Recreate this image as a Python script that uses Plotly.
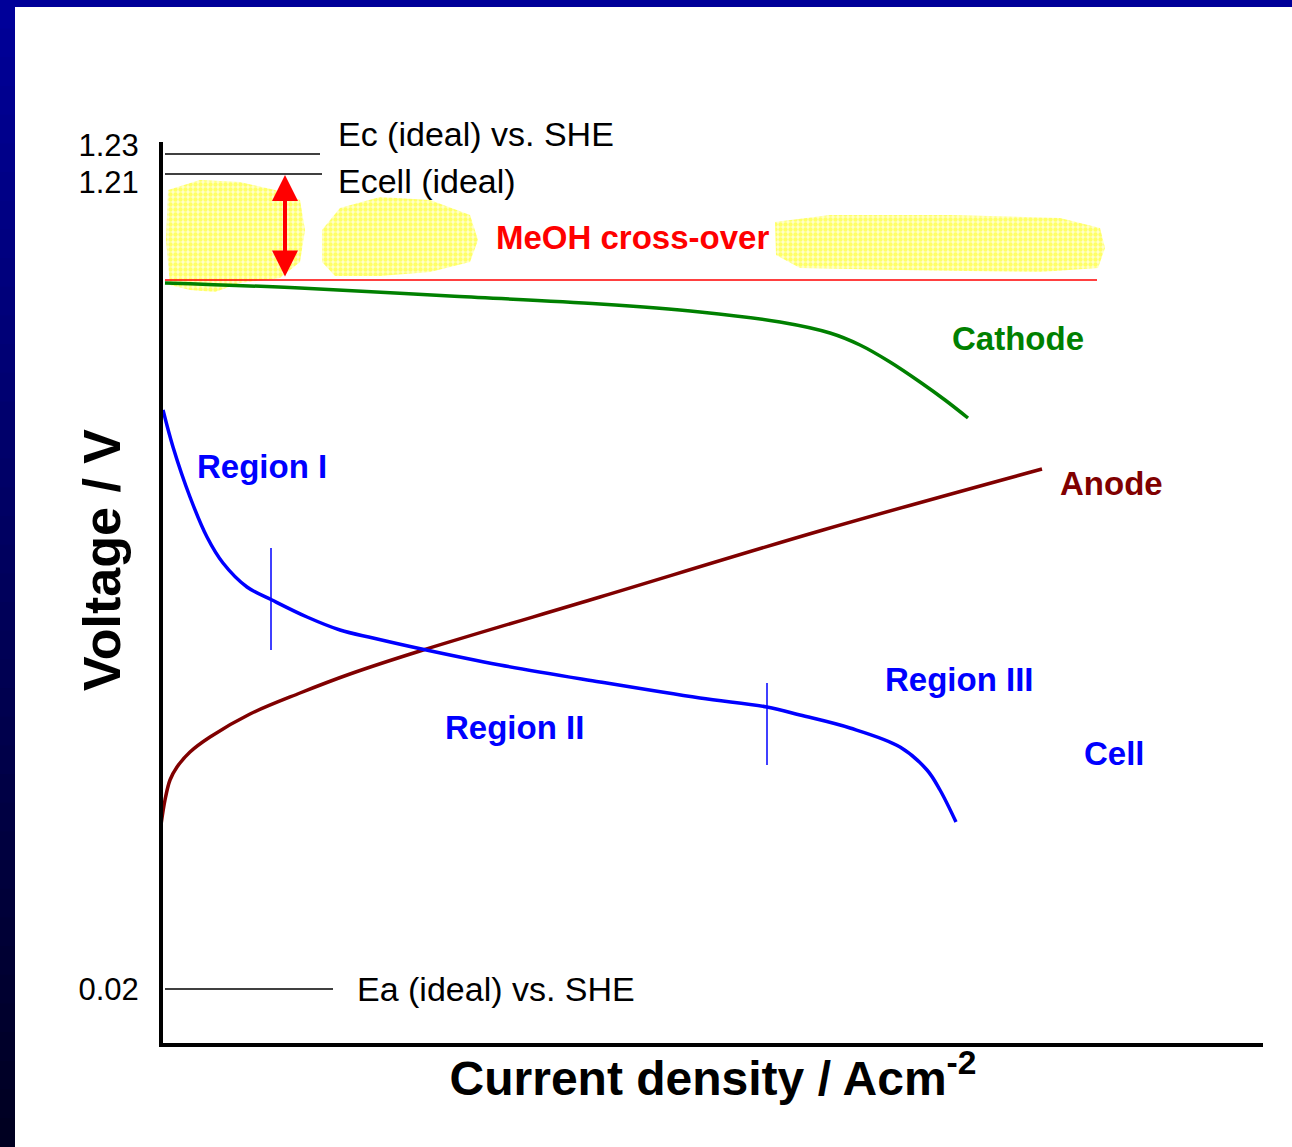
import plotly.graph_objects as go

# chart units: x = 0..1100 (current density, arbitrary), y = 0..901 (voltage, schematic)
cell_x = [0, 10, 27, 44, 60, 84, 109, 144, 177, 210, 254, 337, 437, 537, 604, 637, 687, 737, 764, 777, 793]
cell_y = [633, 596, 546, 506, 480, 456, 443, 426, 413, 405, 395, 378, 361, 345, 336, 328, 315, 296, 273, 253, 221]

cathode_x = [2, 137, 287, 437, 537, 617, 667, 697, 727, 757, 782, 805]
cathode_y = [760, 755, 747, 739, 731, 721, 710, 698, 681, 661, 643, 625]

anode_x = [-3, 2, 7, 14, 27, 47, 87, 137, 187, 257, 437, 660, 879]
anode_y = [211, 243, 263, 276, 291, 306, 329, 350, 369, 392, 446, 513, 574]

# region boundaries on the cell curve
region_marks = [(108, 393, 495), (604, 278, 360)]

# ideal potentials (level, x end)
ideal_levels = [(889, 157), (869, 159), (54, 170)]
crossover_level = 763
crossover_end = 934
arrow_x = 122
arrow_top, arrow_bottom = 868, 765

tick_vals = [898, 861, 54]
tick_text = ["1.23", "1.21", "0.02"]

# methanol cross-over clouds
clouds = [
    ([5, 37, 77, 112, 137, 142, 137, 117, 77, 52, 27, 7, 3],
     [853, 863, 861, 853, 843, 813, 781, 765, 760, 751, 753, 758, 803]),
    ([159, 177, 217, 267, 307, 315, 307, 267, 217, 172, 159],
     [813, 835, 846, 843, 828, 803, 781, 771, 767, 767, 781]),
    ([612, 667, 787, 897, 937, 942, 935, 877, 737, 637, 613],
     [821, 828, 828, 825, 815, 795, 775, 771, 773, 775, 788]),
]

labels = [
    ("Ec (ideal) vs. SHE", 173, 909, "black", False),
    ("Ecell (ideal)", 173, 862, "black", False),
    ("MeOH cross-over", 331, 806, "#ff0000", True),
    ("Cathode", 787, 705, "#008000", True),
    ("Anode", 895, 560, "#800000", True),
    ("Region I", 32, 576, "#0000ff", True),
    ("Region II", 280, 316, "#0000ff", True),
    ("Region III", 720, 364, "#0000ff", True),
    ("Cell", 919, 290, "#0000ff", True),
    ("Ea (ideal) vs. SHE", 192, 54, "black", False),
]

W, H = 1292, 1147
L, R, T, B = 163, 29, 142, 104
XMAX, YMAX = 1100, 901
FONT = "Arial, Liberation Sans, sans-serif"


def px(xp):
    return (xp - L) / (W - L - R)


def py(yp):
    return (H - B - yp) / (H - T - B)


fig = go.Figure()

for cx, cy in clouds:
    fig.add_trace(go.Scatter(
        x=cx + [cx[0]], y=cy + [cy[0]], mode="lines", fill="toself",
        line=dict(width=0, color="rgba(0,0,0,0)"),
        fillcolor="rgba(255,255,0,0.2)",
        fillpattern=dict(shape=".", fgcolor="#ffff00", fillmode="overlay",
                         size=5, solidity=0.6),
        hoverinfo="skip", showlegend=False,
    ))

for level, xend in ideal_levels:
    fig.add_trace(go.Scatter(x=[2, xend], y=[level, level], mode="lines",
                             line=dict(color="black", width=1.5), showlegend=False))

fig.add_trace(go.Scatter(x=[2, crossover_end], y=[crossover_level, crossover_level], mode="lines",
                         line=dict(color="#ff0000", width=1.5), showlegend=False))

fig.add_trace(go.Scatter(x=cathode_x, y=cathode_y, mode="lines", name="Cathode",
                         line=dict(color="#008000", width=3.5, shape="spline"), showlegend=False))
fig.add_trace(go.Scatter(x=anode_x, y=anode_y, mode="lines", name="Anode",
                         line=dict(color="#800000", width=3.5, shape="spline"), showlegend=False))
fig.add_trace(go.Scatter(x=cell_x, y=cell_y, mode="lines", name="Cell",
                         line=dict(color="#0000ff", width=3.5, shape="spline"), showlegend=False))

for mx, y0, y1 in region_marks:
    fig.add_trace(go.Scatter(x=[mx, mx], y=[y0, y1], mode="lines",
                             line=dict(color="#0000ff", width=1.5), showlegend=False))

# double-headed red arrow
fig.add_annotation(x=arrow_x, y=arrow_top, ax=arrow_x, ay=arrow_bottom,
                   xref="x", yref="y", axref="x", ayref="y", text="",
                   showarrow=True, arrowhead=2, startarrowhead=2, arrowside="end+start",
                   arrowsize=1.3, startarrowsize=1.3, arrowwidth=4, arrowcolor="#ff0000")

for text, x, y, color, bold in labels:
    fig.add_annotation(x=x / XMAX, y=y / YMAX, xref="paper", yref="paper",
                       text=f"<b>{text}</b>" if bold else text,
                       showarrow=False, xanchor="left", yanchor="middle",
                       font=dict(family=FONT, size=33 if bold else 34, color=color))

fig.add_annotation(x=px(102), y=py(560), xref="paper", yref="paper",
                   xanchor="center", yanchor="middle",
                   text="<b>Voltage / V</b>", textangle=-90, showarrow=False,
                   font=dict(family=FONT, size=52, color="black"))

# slide background border: top bar and left gradient bar
shapes = [dict(type="rect", xref="paper", yref="paper", x0=px(0), x1=px(W), y0=py(7), y1=py(0),
               fillcolor="#000099", line=dict(width=0), layer="above")]
n = 40
for i in range(n):
    t = i / (n - 1)
    b = int(153 - t * 120)
    shapes.append(dict(type="rect", xref="paper", yref="paper", x0=px(0), x1=px(15),
                       y0=py(H * (i + 1) / n + 1), y1=py(H * i / n),
                       fillcolor=f"rgb(0,0,{b})", line=dict(width=0), layer="above"))
fig.update_layout(shapes=shapes)

fig.update_layout(
    width=W, height=H,
    margin=dict(l=L, r=R, t=T, b=B, pad=0),
    paper_bgcolor="white", plot_bgcolor="white",
    showlegend=False,
    xaxis=dict(range=[0, XMAX], showgrid=False, zeroline=False, showticklabels=False, ticks="",
               showline=True, linecolor="black", linewidth=4,
               title=dict(text="<b>Current density / Acm<sup>-2</sup></b>", standoff=16,
                          font=dict(family=FONT, size=48, color="black"))),
    yaxis=dict(range=[0, YMAX], showgrid=False, zeroline=False, ticks="",
               tickvals=tick_vals, ticktext=tick_text, ticklabelstandoff=14,
               tickfont=dict(family=FONT, size=31, color="black"),
               showline=True, linecolor="black", linewidth=4),
)

fig.write_html("out.html", config={"displayModeBar": False},
               post_script="document.body.style.margin='0';")
